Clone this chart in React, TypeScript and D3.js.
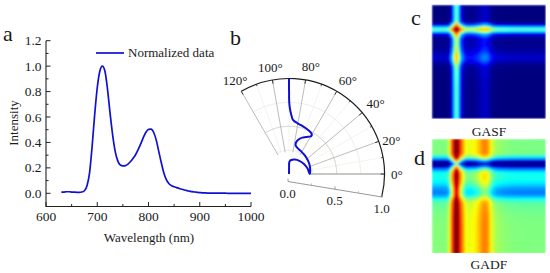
import React from "react";
import * as d3 from "d3";

// one value every 5 nm
const wavelengths = d3.range(630, 1005, 5);
const intensity = [
  0.01, 0.01, 0.012, 0.012, 0.01, 0.009, 0.008, 0.008, 0.01, 0.02, 0.06, 0.16, 0.37, 0.62, 0.83, 0.96,
  1.0, 0.96, 0.82, 0.63, 0.46, 0.33, 0.255, 0.222, 0.215, 0.218, 0.23, 0.25, 0.275, 0.305, 0.345, 0.39,
  0.44, 0.48, 0.503, 0.505, 0.48, 0.42, 0.33, 0.24, 0.16, 0.105, 0.075, 0.06, 0.052, 0.045, 0.038, 0.032,
  0.026, 0.021, 0.017, 0.013, 0.01, 0.008, 0.006, 0.004, 0.003, 0.002, 0.002, 0.001, 0.001, 0.001, 0.001,
  0.001, 0.001, 0.0, 0.0, 0.0, 0.0, 0.0, 0.0, 0.0, 0.0, 0.0, 0.0,
];
const xTicks = [600, 700, 800, 900, 1000];
const xMinorTicks = [650, 750, 850, 950];
const yTicks = [0, 0.2, 0.4, 0.6, 0.8, 1.0, 1.2];
const yMinorTicks = [0.1, 0.3, 0.5, 0.7, 0.9, 1.1];
const angleTicks = [0, 20, 40, 60, 80, 100, 120];
const angleMinorTicks = [10, 30, 50, 70, 90, 110];
const radiusTicks = [0, 0.5, 1];
const radiusMinorTicks = [0.25, 0.75];
const jetStops = [-1, -0.75, -0.25, 0.25, 0.75, 1];
const jetColors = ["#00007f", "#0000ff", "#00ffff", "#ffff00", "#ff0000", "#7f0000"];

const FONT = "'Liberation Serif', serif";
const BLUE = "#1010d4";

const x = d3.scaleLinear().domain([600, 1000]).range([46, 251]);
const y = d3.scaleLinear().domain([0, 1.2]).range([193.3, 40.7]);
const yBottom = 206.5;

const spectrum = d3
  .line<number>()
  .x((_, i) => x(wavelengths[i]))
  .y((d) => y(d))
  .curve(d3.curveMonotoneX)(intensity) as string;

// panel b: radius is normalised wavelength, angle is arccos(intensity)
const cx = 289;
const cy = 174;
const r = d3.scaleLinear().domain([0, 1]).range([0, 95.5]);
const norm = d3.scaleLinear().domain([630, 1000]).range([0, 1]);
const phi = intensity.map((d) => Math.acos(Math.min(1, d)));
const toRad = (deg: number) => (deg * Math.PI) / 180;
const px = (deg: number, rr: number) => cx + r(rr) * Math.cos(toRad(deg));
const py = (deg: number, rr: number) => cy - r(rr) * Math.sin(toRad(deg));

const polarPath = d3
  .lineRadial<number>()
  .angle((d) => Math.PI / 2 - d)
  .radius((_, i) => r(norm(wavelengths[i])))
  .curve(d3.curveCatmullRom)(phi) as string;

const arcPath = (rr: number, from: number, to: number) =>
  d3.arc()({
    innerRadius: r(rr),
    outerRadius: r(rr),
    startAngle: Math.PI / 2 - toRad(from),
    endAngle: Math.PI / 2 - toRad(to),
  }) as string;

// tilted radial axis under the sector
const axisX = d3.scaleLinear().domain([0, 1]).range([288, 382]);
const axisY = d3.scaleLinear().domain([0, 1]).range([181.5, 197]);

const jet = d3.scaleLinear<string>().domain(jetStops).range(jetColors).clamp(true);

// the angle labels in the original do not sit on a perfect circle
const labelNudge = (t: number): [number, number] => {
  if (t === 20) return [1, 3];
  if (t === 40) return [4, -1];
  if (t === 60) return [5, 0];
  if (t === 80) return [3, -1];
  return [0, 0];
};

function Field({ id, top, value }: { id: string; top: number; value: (a: number, b: number) => number }) {
  const left = 431.5;
  const size = 114.3;
  const band = d3.scaleBand<number>().domain(d3.range(phi.length)).range([0, size]);
  return (
    <g>
      <defs>
        <clipPath id={`clip-${id}`}>
          <rect x={left} y={top} width={size} height={size} />
        </clipPath>
        <filter id={`blur-${id}`} x="0" y="0" width="1" height="1">
          <feGaussianBlur stdDeviation="1" edgeMode="duplicate" />
        </filter>
      </defs>
      <g clipPath={`url(#clip-${id})`}>
        <g filter={`url(#blur-${id})`} shapeRendering="crispEdges">
          {phi.map((row, i) =>
            phi.map((col, j) => (
              <rect
                key={`${i}-${j}`}
                x={left + (band(j) as number)}
                y={top + (band(i) as number)}
                width={band.bandwidth() + 0.6}
                height={band.bandwidth() + 0.6}
                fill={jet(value(row, col))}
              />
            ))
          )}
        </g>
      </g>
    </g>
  );
}

export default function App() {
  return (
    <svg
      width={550}
      height={273}
      viewBox="0 0 550 273"
      style={{ position: "absolute", left: 0, top: 0, background: "#fff" }}
      fontFamily={FONT}
      fill="#1a1a1a"
    >
      {/* panel a */}
      <text x={3} y={41} fontSize={22}>a</text>
      <g stroke="#222" strokeWidth={1} fill="none">
        <path d={`M46,${y(1.2)}V${yBottom}H${x(1000)}`} strokeWidth={1.1} />
        {yTicks.map((t) => <line key={t} x1={46} x2={50.5} y1={y(t)} y2={y(t)} />)}
        {yMinorTicks.map((t) => <line key={t} x1={46} x2={48.5} y1={y(t)} y2={y(t)} />)}
        {xTicks.map((t) => <line key={t} x1={x(t)} x2={x(t)} y1={yBottom} y2={yBottom - 4.5} />)}
        {xMinorTicks.map((t) => <line key={t} x1={x(t)} x2={x(t)} y1={yBottom} y2={yBottom - 2.5} />)}
      </g>
      {yTicks.map((t) => (
        <text key={t} x={41.5} y={y(t) + 4.5} fontSize={13.5} textAnchor="end">{t.toFixed(1)}</text>
      ))}
      {xTicks.map((t) => (
        <text key={t} x={x(t)} y={220.5} fontSize={13.5} textAnchor="middle">{t}</text>
      ))}
      <text x={149} y={242} fontSize={13} textAnchor="middle">Wavelength (nm)</text>
      <text transform="translate(18,123) rotate(-90)" fontSize={13} textAnchor="middle">Intensity</text>
      <path d={spectrum} fill="none" stroke={BLUE} strokeWidth={1.7} />
      <line x1={96} x2={124} y1={53} y2={53} stroke={BLUE} strokeWidth={1.7} />
      <text x={128} y={57} fontSize={13}>Normalized data</text>

      {/* panel b */}
      <text x={230} y={45} fontSize={22}>b</text>
      <g fill="none">
        {angleMinorTicks.map((t) => (
          <line key={t} x1={px(t, 0.23)} y1={py(t, 0.23)} x2={px(t, 1)} y2={py(t, 1)} stroke="#f0f0ee" strokeWidth={0.8} />
        ))}
        {[0.25, 0.75].map((t) => (
          <path key={t} transform={`translate(${cx},${cy})`} d={arcPath(t, 0, 120)} stroke="#f0f0ee" strokeWidth={0.8} />
        ))}
        <path transform={`translate(${cx},${cy})`} d={arcPath(0.5, 0, 120)} stroke="#dcdcd8" strokeWidth={0.9} />
        {angleTicks.map((t) => (
          <line key={t} x1={px(t, 0.23)} y1={py(t, 0.23)} x2={px(t, 1)} y2={py(t, 1)} stroke="#b4b4b0" strokeWidth={t === 0 ? 1.3 : 0.9} />
        ))}
        <path transform={`translate(${cx},${cy})`} d={arcPath(1, -14, 120)} stroke="#1c1c1c" strokeWidth={1.2} />
        {angleTicks.map((t) => (
          <line key={t} x1={px(t, 0.96)} y1={py(t, 0.96)} x2={px(t, 1)} y2={py(t, 1)} stroke="#222" strokeWidth={0.9} />
        ))}
        {angleMinorTicks.map((t) => (
          <line key={t} x1={px(t, 0.98)} y1={py(t, 0.98)} x2={px(t, 1)} y2={py(t, 1)} stroke="#222" strokeWidth={0.8} />
        ))}
        <line x1={axisX(0)} y1={axisY(0)} x2={axisX(1)} y2={axisY(1)} stroke="#8c8c8c" strokeWidth={0.9} />
        {radiusTicks.map((t) => (
          <line key={t} x1={axisX(t)} y1={axisY(t)} x2={axisX(t)} y2={axisY(t) - 3} stroke="#8c8c8c" strokeWidth={0.8} />
        ))}
        {radiusMinorTicks.map((t) => (
          <line key={t} x1={axisX(t)} y1={axisY(t)} x2={axisX(t)} y2={axisY(t) - 2} stroke="#a8a8a8" strokeWidth={0.7} />
        ))}
        <path transform={`translate(${cx},${cy})`} d={polarPath} stroke={BLUE} strokeWidth={2} />
      </g>
      {angleTicks.map((t) => (
        <text key={t} x={px(t, 1.13) + labelNudge(t)[0]} y={py(t, 1.13) + 4.5 + labelNudge(t)[1]} fontSize={13} textAnchor="middle">{t}°</text>
      ))}
      {radiusTicks.map((t) => (
        <text key={t} x={axisX(t) - 0.5} y={axisY(t) + 16} fontSize={13} textAnchor="middle">{t.toFixed(1)}</text>
      ))}

      {/* panels c and d */}
      <Field id="gasf" top={4.5} value={(a, b) => Math.cos(a + b)} />
      <Field id="gadf" top={138.7} value={(a, b) => Math.sin(a - b)} />
      <text x={411} y={25} fontSize={22}>c</text>
      <text x={414} y={165} fontSize={22}>d</text>
      <text x={489} y={136} fontSize={13.5} textAnchor="middle">GASF</text>
      <text x={489} y={269} fontSize={13.5} textAnchor="middle">GADF</text>
    </svg>
  );
}
